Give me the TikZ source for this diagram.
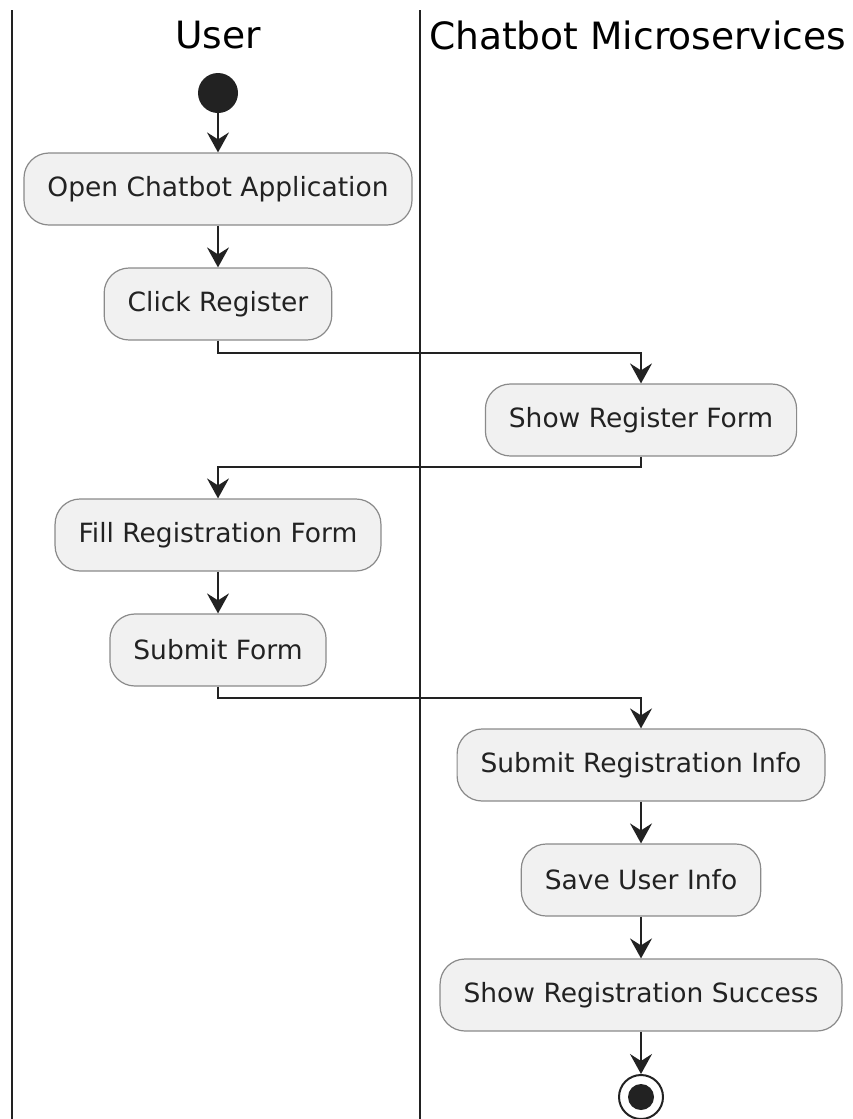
\documentclass[tikz,border=0pt]{standalone}
\usepackage{fontspec}
\setmainfont{DejaVu Sans}
\usetikzlibrary{arrows.meta}
\definecolor{boxfill}{HTML}{F1F1F1}
\definecolor{boxline}{HTML}{8A8A8A}
\definecolor{ink}{HTML}{222222}
\tikzset{
  act/.style={draw=boxline, line width=1.2pt, fill=boxfill, rounded corners=25pt,
    minimum height=72pt, inner xsep=23.5pt, text=ink,
    font=\fontsize{26.5}{31}\selectfont},
  flow/.style={draw=ink, line width=2pt, -{Stealth[length=20pt, width=22pt, inset=7pt]}},
  lane/.style={draw=ink, line width=2pt},
  title/.style={text=black, font=\fontsize{37.6}{44}\selectfont, inner sep=0pt}
}
\begin{document}
\begin{tikzpicture}[x=1pt, y=-1pt]
\useasboundingbox (0,0) rectangle (852,1119);
% lanes
\draw[lane] (12,10) -- (12,1119);
\draw[lane] (420,10) -- (420,1119);
\node[title] (tuser) at (218,35) {User};
\node[title] (tchat) at (637.5,35) {Chatbot Microservices};
% start
\node[circle, fill=ink, minimum size=40pt, inner sep=0pt] (start) at (218,93) {};
\node[act] (open) at (218,189) {Open Chatbot Application};
\node[act] (click) at (218,304) {Click Register};
\node[act] (showform) at (641,420) {Show Register Form};
\node[act] (fill) at (218,535) {Fill Registration Form};
\node[act] (submit) at (218,650) {Submit Form};
\node[act] (subinfo) at (641,765) {Submit Registration Info};
\node[act] (save) at (641,880) {Save User Info};
\node[act] (success) at (641,995) {Show Registration Success};
\node[circle, draw=ink, line width=2pt, fill=white, minimum size=44pt, inner sep=0pt] (end) at (641,1097) {};
\node[circle, fill=ink, minimum size=26pt, inner sep=0pt] (endin) at (end.center) {};
% connectors
\draw[flow] (start) -- (open);
\draw[flow] (open) -- (click);
\draw[flow] (click.south) -- ++(0,12) -| (showform.north);
\draw[flow] (showform.south) -- ++(0,10) -| (fill.north);
\draw[flow] (fill) -- (submit);
\draw[flow] (submit.south) -- ++(0,11) -| (subinfo.north);
\draw[flow] (subinfo) -- (save);
\draw[flow] (save) -- (success);
\draw[flow] (success) -- (end);
\end{tikzpicture}
\end{document}
